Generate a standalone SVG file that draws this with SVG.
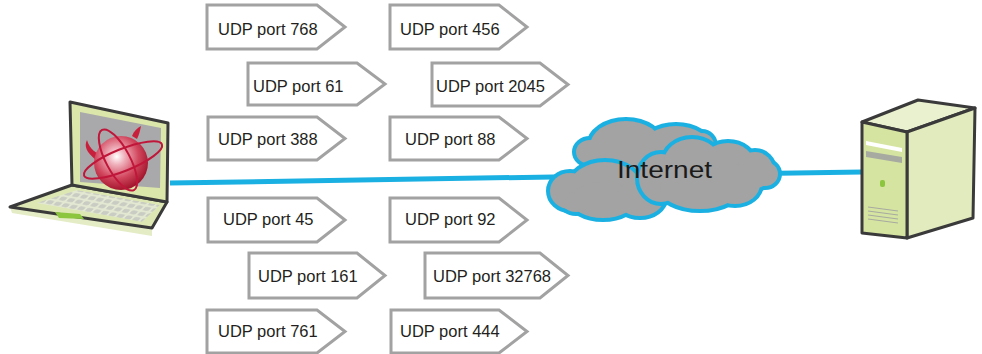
<svg xmlns="http://www.w3.org/2000/svg" width="982" height="354" viewBox="0 0 982 354">
  <style>
    .port { fill: #ffffff; stroke: #a2a2a2; stroke-width: 3; stroke-linejoin: miter; }
    .lbl { font-family: "Liberation Sans", Arial, sans-serif; font-size: 16.5px; fill: #231f20; }
    .link { stroke: #1bb0e2; stroke-width: 5; fill: none; stroke-linecap: butt; }
    .edge { stroke: #3a3a3a; stroke-width: 3; stroke-linejoin: round; }
    .cloud-line { fill: #1bb0e2; stroke: #1bb0e2; stroke-width: 8; }
    .cloud-fill { fill: #a3a3a3; stroke: none; }
  </style>
  <defs>
    <radialGradient id="ballShade" cx="0.42" cy="0.38" r="0.62">
      <stop offset="0" stop-color="#ffffff"/>
      <stop offset="0.25" stop-color="#efb0bb"/>
      <stop offset="0.65" stop-color="#d2475e"/>
      <stop offset="1" stop-color="#a4162e"/>
    </radialGradient>
    <pattern id="keys" patternUnits="userSpaceOnUse" width="8" height="6" patternTransform="rotate(11) skewX(-35)">
      <rect width="8" height="6" fill="#e3e8d2"/>
      <rect x="1" y="1" width="6" height="4" rx="1.2" fill="#c9ccc2"/>
    </pattern>
    <clipPath id="kbArea">
      <polygon points="36,203 77,190 160,205 142,222"/>
    </clipPath>
    <!-- cloud lobes, each drawn twice: stroked outline, then plain fill -->
    <g id="lobesBack">
      <ellipse cx="590" cy="152" rx="14" ry="12"/>
      <ellipse cx="626" cy="146" rx="36" ry="25"/>
      <ellipse cx="676" cy="148" rx="34" ry="22"/>
      <ellipse cx="702" cy="146" rx="12" ry="13"/>
    </g>
    <g id="lobesLeft">
      <ellipse cx="570" cy="191" rx="20" ry="18"/>
      <ellipse cx="605" cy="188" rx="36" ry="26"/>
      <ellipse cx="603" cy="200" rx="32" ry="18"/>
      <ellipse cx="640" cy="198" rx="24" ry="18"/>
      <ellipse cx="576" cy="202" rx="14" ry="10"/>
    </g>
    <g id="lobesRight">
      <ellipse cx="661" cy="178" rx="22" ry="24"/>
      <ellipse cx="692" cy="162" rx="28" ry="23"/>
      <ellipse cx="728" cy="164" rx="26" ry="21"/>
      <ellipse cx="755" cy="170" rx="18" ry="18"/>
      <ellipse cx="765" cy="174" rx="13" ry="12"/>
      <ellipse cx="700" cy="188" rx="40" ry="21"/>
      <ellipse cx="735" cy="184" rx="25" ry="20"/>
    </g>
  </defs>

  <rect width="982" height="354" fill="#ffffff"/>

  <!-- network cable -->
  <g id="connectors">
    <line class="link" x1="170" y1="183" x2="862" y2="172"/>
  </g>

  <!-- laptop -->
  <g id="laptop">
    <!-- base underside lip -->
    <polygon points="10,207 152,228 152,236 12,213" fill="#e4ecc6"/>
    <!-- base -->
    <polygon class="edge" points="10,207 72,185 167,202 152,228" fill="#dde7b4"/>
    <polygon points="36,203 77,190 160,205 142,222" fill="url(#keys)" clip-path="url(#kbArea)"/>
    <polygon points="55,212 80,214 84,219 59,218" fill="#8cc63f"/>
    <!-- lid -->
    <polygon class="edge" points="70,102 168,123 167,202 72,185" fill="#dbe6aa"/>
    <polygon points="80,112 161,128 160,188 80,182" fill="#a9a9ab"/>
    <!-- logo on screen -->
    <g>
      <path d="M96,160 C86,152 84,146 87,140 C90,150 96,153 102,155 Z" fill="#c8203c"/>
      <path d="M132,136 C134,131 137,128 141,126 C140,131 139,135 137,139 Z" fill="#c8203c"/>
      <circle cx="121" cy="163" r="27" fill="url(#ballShade)"/>
      <ellipse cx="123" cy="160" rx="42" ry="11" transform="rotate(-22 123 160)" fill="none" stroke="#c0163a" stroke-width="2"/>
      <ellipse cx="118" cy="160" rx="34" ry="12" transform="rotate(62 118 160)" fill="none" stroke="#c0163a" stroke-width="2"/>
    </g>
  </g>

  <!-- internet cloud -->
  <g id="internet">
    <use href="#lobesBack" class="cloud-line"/>
    <use href="#lobesBack" class="cloud-fill"/>
    <use href="#lobesLeft" class="cloud-line"/>
    <use href="#lobesLeft" class="cloud-fill"/>
    <use href="#lobesRight" class="cloud-line"/>
    <use href="#lobesRight" class="cloud-fill"/>
    <text x="617" y="178" font-family="'Liberation Sans', Arial, sans-serif" font-size="24.5" fill="#1a1a1a" textLength="95" lengthAdjust="spacingAndGlyphs">Internet</text>
  </g>

  <!-- server tower -->
  <g id="server">
    <polygon class="edge" points="862,122 918,100 975,108 907,132" fill="#eaf1cf"/>
    <polygon class="edge" points="907,132 975,108 973,218 907,238" fill="#e2ebbd"/>
    <polygon class="edge" points="862,122 907,132 907,238 862,233" fill="#d6e4a2"/>
    <polygon points="866,141 902,148 902,152 866,145" fill="#ffffff"/>
    <polygon points="866,151 902,157 902,163 866,157" fill="#a7aaa0"/>
    <rect x="880" y="180" width="5" height="7" rx="2" fill="#8cc63f"/>
    <g stroke="#a7aaa0" stroke-width="1.2">
      <line x1="868" y1="207" x2="898" y2="211"/>
      <line x1="868" y1="211" x2="898" y2="215"/>
      <line x1="868" y1="215" x2="898" y2="219"/>
      <line x1="868" y1="219" x2="898" y2="223"/>
    </g>
  </g>

  <!-- UDP port tags -->
  <g id="port768">
    <path class="port" d="M207,5 H317 L345,27 L317,49 H207 Z"/>
    <text class="lbl" x="218" y="35">UDP port 768</text>
  </g>
  <g id="port456">
    <path class="port" d="M390,5 H499 L527,27 L499,49 H390 Z"/>
    <text class="lbl" x="400" y="35">UDP port 456</text>
  </g>
  <g id="port61">
    <path class="port" d="M248,63 H357 L385,84 L357,105 H248 Z"/>
    <text class="lbl" x="253" y="92">UDP port 61</text>
  </g>
  <g id="port2045">
    <path class="port" d="M432,63 H540 L568,84.5 L540,106 H432 Z"/>
    <text class="lbl" x="436" y="92">UDP port 2045</text>
  </g>
  <g id="port388">
    <path class="port" d="M208,117 H317 L345,138.5 L317,160 H208 Z"/>
    <text class="lbl" x="218" y="145">UDP port 388</text>
  </g>
  <g id="port88">
    <path class="port" d="M390,117 H499 L527,138.5 L499,160 H390 Z"/>
    <text class="lbl" x="405" y="145">UDP port 88</text>
  </g>
  <g id="port45">
    <path class="port" d="M208,198 H317 L345,220 L317,242 H208 Z"/>
    <text class="lbl" x="223" y="225">UDP port 45</text>
  </g>
  <g id="port92">
    <path class="port" d="M390,198 H499 L527,220 L499,242 H390 Z"/>
    <text class="lbl" x="405" y="225">UDP port 92</text>
  </g>
  <g id="port161">
    <path class="port" d="M249,253 H357 L385,275.5 L357,298 H249 Z"/>
    <text class="lbl" x="258" y="282">UDP port 161</text>
  </g>
  <g id="port32768">
    <path class="port" d="M425,253 H540 L568,275.5 L540,298 H425 Z"/>
    <text class="lbl" x="433" y="282">UDP port 32768</text>
  </g>
  <g id="port761">
    <path class="port" d="M207,310 H317 L345,331.5 L317,353 H207 Z"/>
    <text class="lbl" x="218" y="337">UDP port 761</text>
  </g>
  <g id="port444">
    <path class="port" d="M391,310 H499 L527,331.5 L499,353 H391 Z"/>
    <text class="lbl" x="400" y="337">UDP port 444</text>
  </g>
</svg>
